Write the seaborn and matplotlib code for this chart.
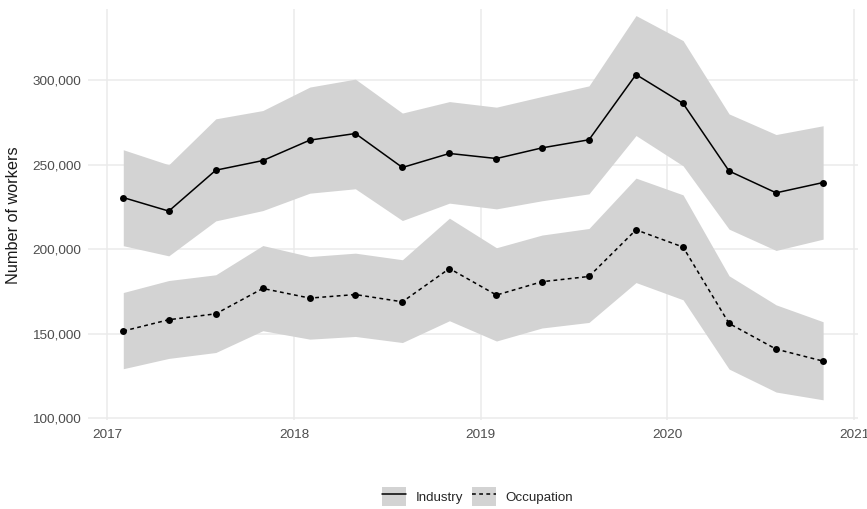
import matplotlib
matplotlib.use("Agg")
import matplotlib.pyplot as plt
import matplotlib.dates as mdates
from matplotlib.lines import Line2D
from matplotlib.patches import Patch
from matplotlib.ticker import FuncFormatter, FixedLocator
import numpy as np
import pandas as pd
import seaborn as sns

# Quarterly estimates (mid-quarter dates) with confidence bands
dates = pd.to_datetime([
    "2017-02-01", "2017-05-01", "2017-08-01", "2017-11-01",
    "2018-02-01", "2018-05-01", "2018-08-01", "2018-11-01",
    "2019-02-01", "2019-05-01", "2019-08-01", "2019-11-01",
    "2020-02-01", "2020-05-01", "2020-08-01", "2020-11-01",
])

industry = [230500, 222500, 246700, 252400, 264500, 268400, 248300, 256600,
            253600, 259900, 264700, 303300, 286200, 246200, 233300, 239400]
industry_upper = [258800, 249900, 277100, 282000, 295900, 300600, 280500, 287300,
                  284000, 290300, 296600, 338200, 323400, 280000, 267800, 273000]
industry_lower = [202000, 196000, 216700, 222800, 233100, 235700, 216900, 227200,
                  223800, 228600, 232700, 267200, 249300, 211800, 199200, 205900]

occupation = [151500, 158200, 161700, 176700, 171000, 173100, 168800, 188500,
              172800, 180700, 183800, 211400, 201200, 156000, 140800, 133700]
occupation_upper = [174300, 181400, 184800, 202100, 195600, 197600, 193700, 218300,
                    200800, 208300, 212200, 242000, 232100, 184200, 167000, 157000]
occupation_lower = [129200, 135300, 138800, 151700, 146700, 148300, 144700, 157600,
                    145600, 153300, 156600, 180200, 170000, 129000, 115400, 110800]

series_names = ["Industry", "Occupation"]
y_ticks = [100000, 150000, 200000, 250000, 300000]
x_tick_years = [2017, 2018, 2019, 2020, 2021]

df = pd.DataFrame({
    "date": np.concatenate([dates, dates]),
    "workers": industry + occupation,
    "lower": industry_lower + occupation_lower,
    "upper": industry_upper + occupation_upper,
    "series": [series_names[0]] * len(dates) + [series_names[1]] * len(dates),
})

sns.set_theme(style="white")
plt.rcParams["font.family"] = ["Liberation Sans", "DejaVu Sans"]

fig = plt.figure(figsize=(8.67, 5.09), dpi=100)
ax = fig.add_axes([0.1015, 0.174, 0.888, 0.808])

band_color = "#d3d3d3"
for name in series_names:
    sub = df[df["series"] == name]
    ax.fill_between(sub["date"], sub["lower"], sub["upper"],
                    color=band_color, linewidth=0, zorder=1)

line_w = 1.1
sns.lineplot(data=df, x="date", y="workers", style="series",
             dashes={"Industry": "", "Occupation": (2.5, 2.2)},
             markers={"Industry": "o", "Occupation": "o"},
             markersize=5, markeredgewidth=0, color="black",
             linewidth=line_w, legend=False, ax=ax, zorder=3)

# Axes styling
ax.set_xlim(pd.Timestamp("2016-11-24"), pd.Timestamp("2021-01-08"))
ax.set_ylim(98600, 342000)
ax.xaxis.set_major_locator(FixedLocator(
    [mdates.date2num(pd.Timestamp(f"{y}-01-01")) for y in x_tick_years]))
ax.xaxis.set_major_formatter(mdates.DateFormatter("%Y"))
ax.yaxis.set_major_locator(FixedLocator(y_ticks))
ax.yaxis.set_major_formatter(FuncFormatter(lambda v, p: f"{int(v):,}"))

ax.grid(True, color="#ebebeb", linewidth=1.1, zorder=0)
ax.set_axisbelow(True)
for s in ax.spines.values():
    s.set_visible(False)
ax.tick_params(axis="both", length=0, labelsize=9.7, colors="#4d4d4d")
ax.tick_params(axis="x", pad=6)
ax.tick_params(axis="y", pad=5)
ax.set_xlabel("")
ax.set_ylabel("Number of workers", fontsize=11.7, color="#1a1a1a", labelpad=8)

# Legend with shaded keys
handles = [
    (Patch(facecolor=band_color, edgecolor="none"),
     Line2D([], [], color="black", linewidth=line_w, linestyle="-")),
    (Patch(facecolor=band_color, edgecolor="none"),
     Line2D([], [], color="black", linewidth=line_w, linestyle=(0, (2.5, 2.2)))),
]
fig.legend(handles, series_names, loc="center", bbox_to_anchor=(0.551, 0.024),
           ncol=2, frameon=False, fontsize=9.6, handlelength=1.8,
           handleheight=1.8, handletextpad=0.7, columnspacing=0.7,
           borderpad=0.2)

fig.savefig("out.png", dpi=100)
